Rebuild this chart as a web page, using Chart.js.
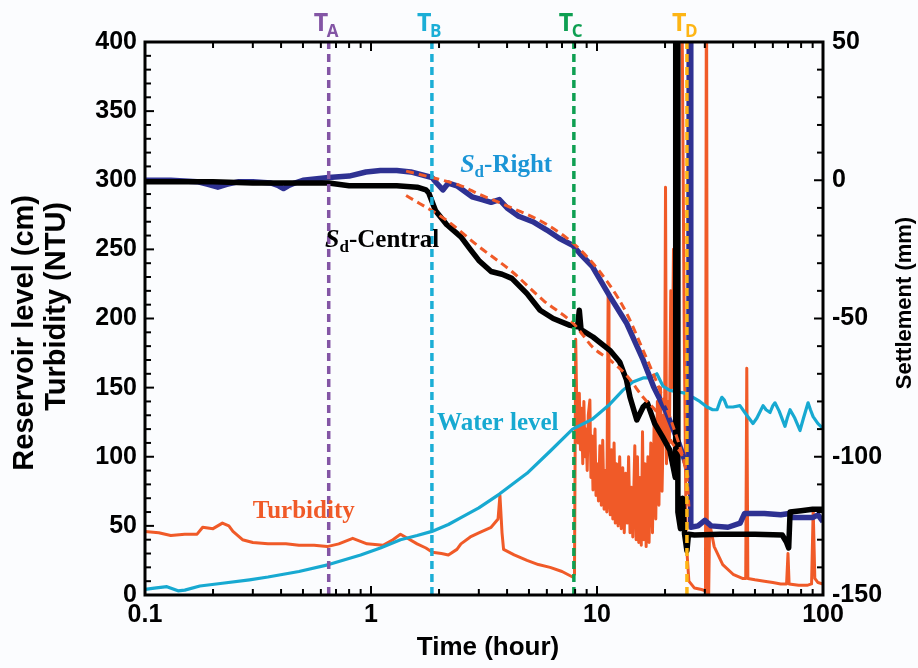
<!DOCTYPE html>
<html>
<head>
<meta charset="utf-8">
<script src="https://cdn.jsdelivr.net/npm/chart.js@4.4.1/dist/chart.umd.min.js"></script>
<style>
html, body { margin: 0; padding: 0; background: #fbfcfe; }
#wrap { width: 918px; height: 668px; }
</style>
</head>
<body>
<div id="wrap"><canvas id="chart"></canvas></div>
<script>
// time in hours (log axis)
const xTickValues = [0.1, 1, 10, 100];

// event markers
const markerNames = ['A', 'B', 'C', 'D'];
const markerTimes = [0.65, 1.86, 7.9, 25.0];
const markerColors = ['#8355a5', '#1baed6', '#0e9f52', '#fdb515'];

// reservoir water level (cm, left axis)
const waterT = [0.1, 0.11, 0.125, 0.14, 0.15, 0.175, 0.22, 0.29, 0.35, 0.48, 0.65, 0.9, 1.1, 1.35, 1.6, 1.86, 2.2, 2.5, 3.0, 3.7, 4.9, 6.2, 7.8, 9.5, 11.4, 13, 14.4, 16, 17.2, 18.4, 19.6, 21, 22.6, 24.5, 26.6, 28.5, 30.7, 32.5, 34, 35, 35.7, 36.6, 37.6, 40, 42.9, 46, 49, 51, 54.3, 56, 58.3, 60, 61.3, 64, 67.9, 69.5, 71.5, 75, 79.1, 82, 85.9, 88, 90.4, 95, 99.1];
const waterLevel = [4, 5, 6, 3, 3.5, 6.5, 8.5, 11, 13, 17, 22, 29, 34, 40, 43, 46, 51, 56, 63, 73, 88, 104, 120, 127, 138, 148, 154, 157, 157, 160, 151, 148, 147, 146, 143, 140, 136, 134, 134, 140, 143, 141, 136, 136, 137, 130, 124, 128, 137, 134, 132, 137, 139, 133, 122, 128, 134, 128, 119, 128, 139, 134, 129, 124, 121];

// turbidity (NTU, left axis)
const turbT = [0.1, 0.115, 0.13, 0.15, 0.17, 0.18, 0.2, 0.22, 0.235, 0.245, 0.27, 0.3, 0.35, 0.42, 0.48, 0.56, 0.64, 0.72, 0.83, 0.96, 1.13, 1.25, 1.35, 1.45, 1.6, 1.75, 1.87, 2.05, 2.2, 2.4, 2.5, 2.75, 3.0, 3.4, 3.65, 3.72, 3.8, 3.86, 4.3, 4.9, 5.5, 6.2, 7.0, 7.8, 7.95,
    8.05, 8.15, 8.25, 8.35, 8.45, 8.55, 8.65, 8.75, 8.85, 8.95, 9.05, 9.15, 9.3, 9.4, 9.5, 9.6, 9.7, 9.8, 9.9, 10.0, 10.15, 10.3, 10.45, 10.6, 10.75, 10.9, 11.05, 11.2, 11.3, 11.45, 11.6, 11.75, 11.9, 12.05, 12.2, 12.4, 12.6, 12.8, 13.0, 13.2, 13.4, 13.6, 13.8, 14.0, 14.2, 14.4, 14.7, 14.9, 15.1, 15.3, 15.5, 15.7, 15.9, 16.1, 16.3, 16.5, 16.8, 17.0, 17.3, 17.6, 17.9, 18.2, 18.5, 18.8, 19.1, 19.4, 19.7, 19.9, 20.1, 20.3, 20.6, 20.9, 21.2, 21.5, 21.8, 22.1, 22.4, 23.2, 23.8, 24.3, 24.8,
    25.5, 27, 29, 30.2, 30.5, 30.8, 31.2, 31.5, 33, 36, 40, 44, 45.5, 46, 46.5, 50, 55, 60, 65, 69, 70, 70.8, 78, 85, 89, 90.5, 92, 95, 100];
const turbidity = [46, 45, 43, 44, 44, 49, 48, 52, 50, 46, 40, 38, 37, 37, 36, 36, 35, 37, 41, 37, 36, 40, 44, 41, 37, 34, 31, 30, 29, 33, 37, 42, 45, 49, 55, 72, 45, 33, 29, 25, 22, 20, 17, 13, 15,
    185, 130, 110, 146, 105, 135, 95, 140, 100, 120, 90, 130, 141, 85, 115, 76, 105, 120, 72, 95, 68, 108, 65, 112, 62, 90, 60, 216, 70, 58, 105, 55, 110, 52, 95, 50, 100, 48, 92, 45, 88, 52, 100, 45, 78, 42, 108, 40, 100, 38, 85, 36, 118, 40, 95, 35, 100, 38, 110, 45, 125, 55, 140, 65, 150, 75, 130, 110, 295, 95, 140, 110, 220, 150, 250, 160, 420, 420, 420, 200, 40,
    10, 5, 4, 3, 500, 0, 0, 52, 35, 22, 15, 12, 12, 164, 12, 11, 10, 9, 8, 8, 30, 8, 7, 7, 8, 62, 12, 9, 8];

// settlement (mm, right axis)
const rightT = [0.1, 0.13, 0.17, 0.19, 0.21, 0.23, 0.26, 0.3, 0.36, 0.39, 0.41, 0.43, 0.46, 0.5, 0.65, 0.8, 0.95, 1.1, 1.3, 1.5, 1.86, 1.95, 2.08, 2.2, 2.4, 2.8, 3.1, 3.4, 3.7, 4.0, 4.5, 5.2, 6.0, 6.8, 7.8, 8.4, 9.5, 11.4, 13.5, 16, 17.8, 20.3, 23, 25, 25.5, 25.6, 25.9, 26.0, 28, 30, 32, 38, 43, 45, 55, 65, 71, 73, 80, 90, 95, 100];
const sdRight = [0, 0, -0.5, -1.5, -2.5, -1.5, -0.5, -0.5, -1, -2, -3, -2, -1, 0, 1, 1.5, 3, 3.5, 3.5, 3, 1, -1, -3.5, -1, -2, -6, -7, -8, -7, -10, -13, -15, -18, -21, -23.5, -26.5, -31, -42, -51.6, -65, -74.7, -84, -95, -103.7, -106, 80, 80, -125.5, -125, -123, -125, -125.5, -124, -120.5, -120.5, -121, -120.5, -122, -122, -122, -121, -123.5];

const centralT = [0.1, 0.2, 0.3, 0.5, 0.65, 0.8, 1.0, 1.3, 1.6, 1.75, 1.8, 1.93, 2.16, 2.5, 2.75, 3.0, 3.4, 3.8, 4.2, 4.9, 5.6, 6.4, 7.6, 8.2, 8.35, 8.5, 9.6, 11.4, 12.6, 13.5, 14.0, 15.0, 16.0, 16.7, 18.0, 19.5, 21.0, 22.2, 22.3, 22.7, 22.8, 23.4, 23.9, 24.4, 25.0, 25.4, 27, 35, 50, 66, 69, 70.5, 71.5, 80, 90, 100];
const sdCentral = [-0.5, -0.5, -1, -1, -1, -2, -2, -2, -2.5, -3.5, -4.5, -11, -16, -20.5, -25, -29, -33, -34, -35.5, -41, -47, -50, -52.5, -53, -47, -54, -56.7, -61.5, -65.7, -72.2, -78.5, -86.7, -82, -80.5, -88, -92.8, -97.6, -107.5, 80, 80, -120, -126, -115, -128, -134, -128, -128.3, -128, -128, -128.3, -131, -133, -120, -119.5, -119, -119];

// fitted curves (mm, right axis)
const fitRightT = [1.43, 1.86, 2.5, 3.0, 4.2, 6.0, 8.4, 11.4, 13.5, 16, 19, 21.5, 24, 25.3];
const fitRight = [3.3, 1, -2, -5, -10, -16, -25, -38, -48, -61.5, -76, -88, -100, -107.5];
const fitCentralT = [1.43, 2.16, 3.0, 4.2, 5.8, 7.9, 9.6, 11.4, 13.5, 16, 19, 21.5, 25, 25.5];
const fitCentral = [-5.5, -14.5, -24, -33, -43.5, -52, -60.5, -65, -70.5, -78.5, -85.5, -95, -107.5, -118];

const pts = (ts, vs) => ts.map((t, i) => ({x: t, y: vs[i]}));

const SANS = "'Liberation Sans', Arial, sans-serif";
const SERIF = "'Liberation Serif', 'Times New Roman', serif";
const RED = '#f05a28';

const datasets = [];
markerTimes.forEach((t, i) => {
    datasets.push({
        label: 'T' + markerNames[i],
        data: [{x: t, y: 0}, {x: t, y: 400}],
        yAxisID: 'y',
        borderColor: markerColors[i],
        borderWidth: 3.5,
        borderDash: [8, 5],
        order: 0
    });
});
datasets.push({label: 'fit right', data: pts(fitRightT, fitRight), yAxisID: 'y1', borderColor: RED, borderWidth: 3, borderDash: [8, 5], cubicInterpolationMode: 'monotone', order: 1});
datasets.push({label: 'fit central', data: pts(fitCentralT, fitCentral), yAxisID: 'y1', borderColor: RED, borderWidth: 3, borderDash: [8, 5], cubicInterpolationMode: 'monotone', order: 1});
datasets.push({label: 'Sd-Central', data: pts(centralT, sdCentral), yAxisID: 'y1', borderColor: '#000000', borderWidth: 5.5, borderJoinStyle: 'round', order: 2});
datasets.push({label: 'Sd-Right', data: pts(rightT, sdRight), yAxisID: 'y1', borderColor: '#2e3192', borderWidth: 5.5, borderJoinStyle: 'round', order: 3});
datasets.push({label: 'Water level', data: pts(waterT, waterLevel), yAxisID: 'y', borderColor: '#17a9d1', borderWidth: 3.2, borderJoinStyle: 'round', order: 4});
datasets.push({label: 'Turbidity', data: pts(turbT, turbidity), yAxisID: 'y', borderColor: RED, borderWidth: 3, borderJoinStyle: 'round', order: 5});

// text labels placed at (time, left-axis value)
const curveLabels = [
    {sd: true, rest: '-Right', t: 2.48, v: 306, color: '#1b95d6'},
    {sd: true, rest: '-Central', t: 0.626, v: 252, color: '#000000'},
    {sd: false, rest: 'Water level', t: 1.96, v: 119, color: '#17a9d1'},
    {sd: false, rest: 'Turbidity', t: 0.30, v: 56, color: RED}
];

const background = {
    id: 'background',
    beforeDraw(chart) {
        const ctx = chart.ctx;
        ctx.save();
        ctx.fillStyle = '#fbfcfe';
        ctx.fillRect(0, 0, chart.width, chart.height);
        ctx.restore();
    }
};

const frame = {
    id: 'frame',
    afterDraw(chart) {
        const {ctx, chartArea: a, scales} = chart;
        const xs = scales.x, yl = scales.y, yr = scales.y1;
        const seg = (x1, y1, x2, y2) => { ctx.beginPath(); ctx.moveTo(x1, y1); ctx.lineTo(x2, y2); ctx.stroke(); };
        ctx.save();
        ctx.strokeStyle = '#000';
        ctx.lineWidth = 2;
        for (let v = 0; v <= 400; v += 10) {
            const py = yl.getPixelForValue(v);
            seg(a.left, py, a.left + (v % 50 === 0 ? 9 : 6), py);
        }
        for (let v = -150; v <= 50; v += 10) {
            const py = yr.getPixelForValue(v);
            seg(a.right, py, a.right - (v % 50 === 0 ? 9 : 6), py);
        }
        for (const d of [0.1, 1, 10]) {
            for (let k = 1; k <= 10; k++) {
                const px = xs.getPixelForValue(d * k);
                const len = (k === 1 || k === 10) ? 9 : 6;
                seg(px, a.bottom, px, a.bottom - len);
                seg(px, a.top, px, a.top + len);
            }
        }
        ctx.lineWidth = 3;
        ctx.strokeRect(a.left, a.top, a.right - a.left, a.bottom - a.top);

        // marker labels
        ctx.textBaseline = 'alphabetic';
        ctx.textAlign = 'left';
        markerTimes.forEach((t, i) => {
            const px = xs.getPixelForValue(t);
            ctx.fillStyle = markerColors[i];
            ctx.font = "bold 25px 'Open Sans', sans-serif";
            ctx.fillText('T', px - 15, 31);
            ctx.font = "bold 17px 'Open Sans', sans-serif";
            ctx.fillText(markerNames[i], px - 2, 37);
        });

        // curve labels
        curveLabels.forEach(l => {
            let x = xs.getPixelForValue(l.t);
            const y = yl.getPixelForValue(l.v);
            ctx.fillStyle = l.color;
            if (l.sd) {
                ctx.font = 'italic bold 26px ' + SERIF;
                ctx.fillText('S', x, y);
                x += ctx.measureText('S').width;
                ctx.font = 'bold 17px ' + SERIF;
                ctx.fillText('d', x, y + 5);
                x += ctx.measureText('d').width;
            }
            ctx.font = 'bold 25px ' + SERIF;
            ctx.fillText(l.rest, x, y);
        });

        // axis titles
        ctx.fillStyle = '#000';
        ctx.font = 'bold 26px ' + SANS;
        ctx.textAlign = 'center';
        ctx.fillText('Time (hour)', 488, 655);

        const rotText = (text, x, y, align, font) => {
            ctx.save();
            ctx.translate(x, y);
            ctx.rotate(-Math.PI / 2);
            ctx.textAlign = align;
            ctx.font = font;
            ctx.fillText(text, 0, 0);
            ctx.restore();
        };
        rotText('Reservoir level (cm)', 33, 195, 'right', 'bold 29px ' + SANS);
        rotText('Turbidity (NTU)', 65, 202, 'right', 'bold 29px ' + SANS);
        rotText('Settlement (mm)', 911, 303, 'center', 'bold 22px ' + SANS);
        ctx.restore();
    }
};

const tickFont = {family: SANS, size: 25, weight: 'bold'};

new Chart(document.getElementById('chart'), {
    type: 'line',
    data: {datasets: datasets},
    options: {
        responsive: true,
        maintainAspectRatio: false,
        animation: false,
        devicePixelRatio: 1,
        layout: {padding: {top: 42, left: 0, right: 0, bottom: 0}},
        elements: {point: {radius: 0}, line: {tension: 0}},
        plugins: {legend: {display: false}, tooltip: {enabled: false}},
        scales: {
            x: {
                type: 'logarithmic',
                min: 0.1,
                max: 100,
                grid: {display: false, drawTicks: false},
                border: {display: false},
                afterBuildTicks: (s) => { s.ticks = xTickValues.map(v => ({value: v})); },
                afterFit: (s) => { s.height = 73; },
                ticks: {
                    autoSkip: false,
                    maxRotation: 0,
                    padding: 5,
                    color: '#000',
                    font: tickFont,
                    callback: (v) => String(v)
                }
            },
            y: {
                position: 'left',
                min: 0,
                max: 400,
                grid: {display: false, drawTicks: false},
                border: {display: false},
                afterFit: (s) => { s.width = 145; },
                ticks: {stepSize: 50, padding: 8, color: '#000', font: tickFont}
            },
            y1: {
                position: 'right',
                min: -150,
                max: 50,
                grid: {display: false, drawTicks: false},
                border: {display: false},
                afterFit: (s) => { s.width = 95; },
                ticks: {stepSize: 50, padding: 9, color: '#000', font: tickFont}
            }
        }
    },
    plugins: [background, frame]
});
</script>
</body>
</html>
